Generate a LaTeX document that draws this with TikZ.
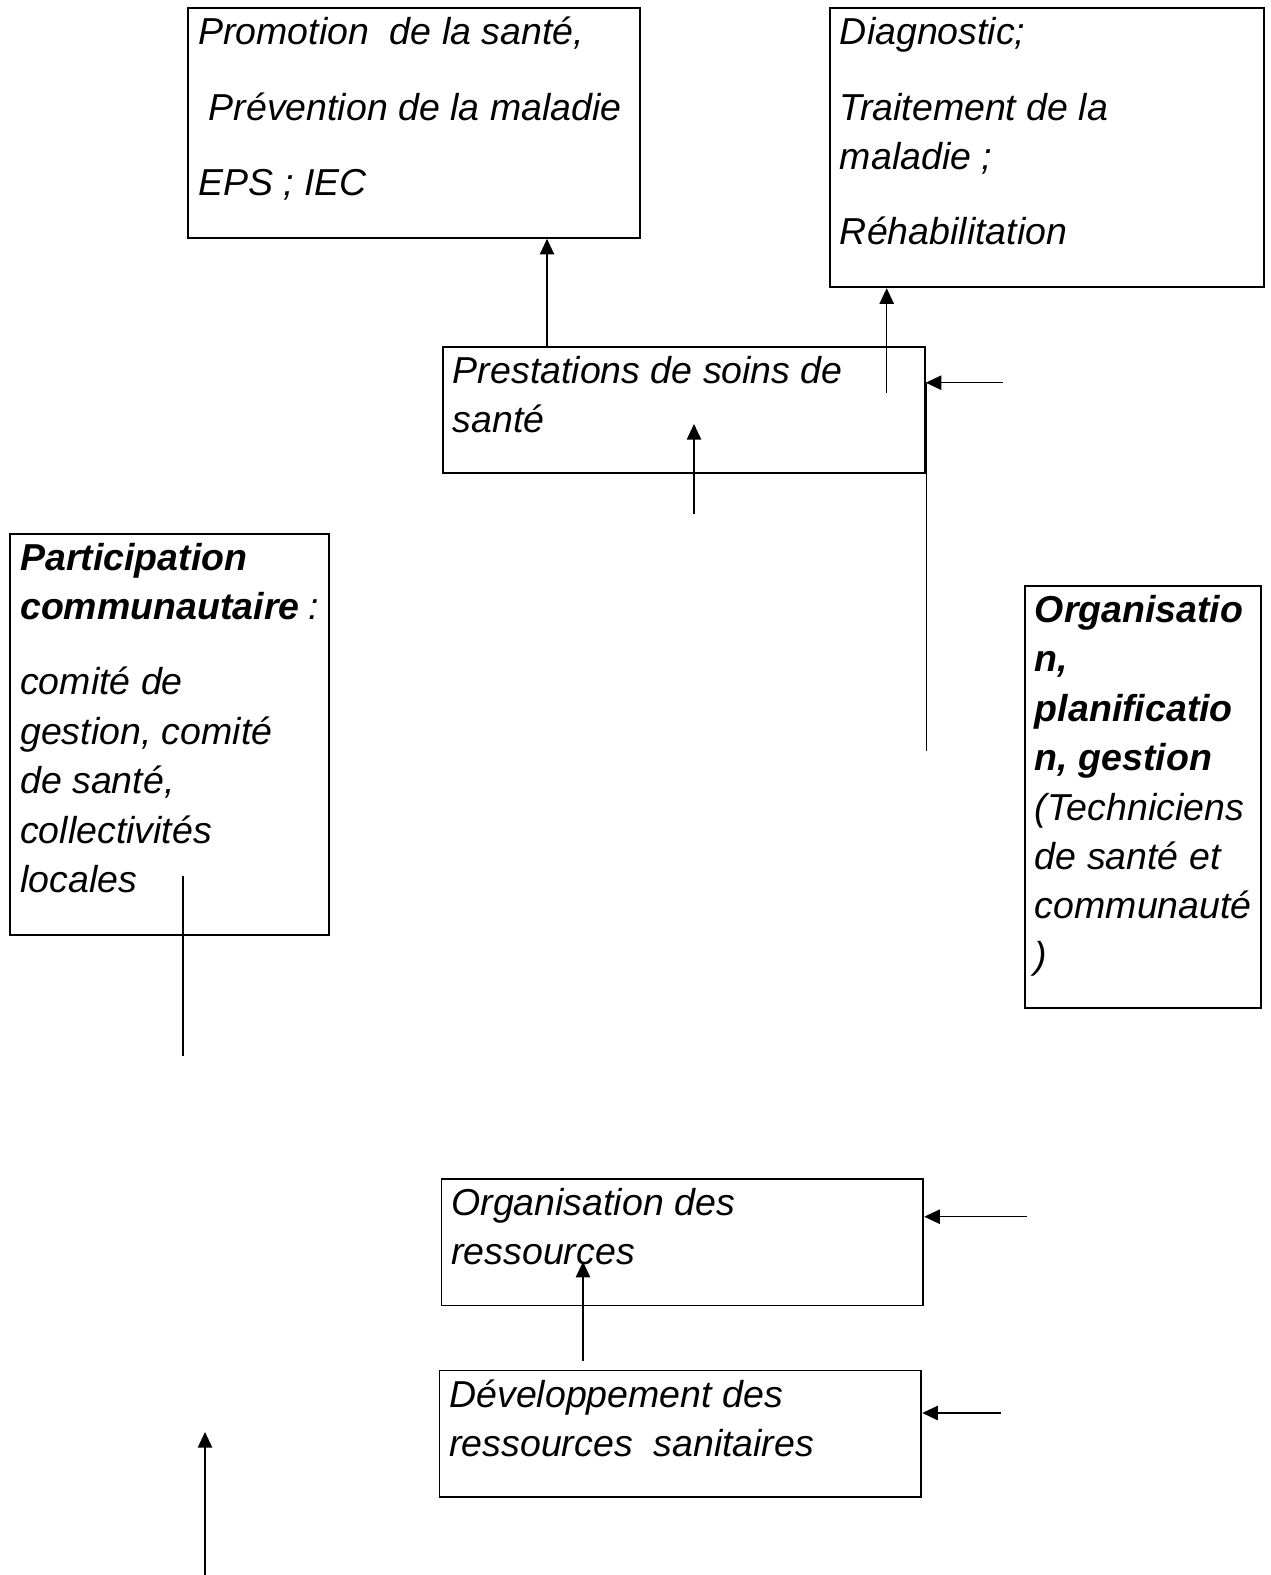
\documentclass[tikz,border=0pt]{standalone}
\usepackage{fontspec}
\setmainfont{Liberation Sans}
\usepackage{tikz}
\usetikzlibrary{arrows.meta}
\hyphenpenalty=10000
\exhyphenpenalty=10000

\begin{document}
\begin{tikzpicture}[
    x=0.32pt, y=-0.32pt,
    font=\fontsize{12}{15.8}\selectfont\itshape,
    panel/.style={draw, line width=0.6pt, anchor=north west, align=flush left, inner xsep=3.2pt, inner ysep=0pt, text height=11.7pt},
    arr/.style={-{Triangle[length=5pt,width=4.6pt]}, line width=0.45pt},
    link/.style={line width=0.45pt}
]
\useasboundingbox (0,0) rectangle (1271,1575);

% boxes
\node[panel, text width=138.2pt, text depth=61.8pt] (promo) at (187.3,7.3) {Promotion\ \ de la santé,\\[8.3pt]\hspace*{0.278em}Prévention de la maladie\\[8.3pt]EPS ; IEC};
\node[panel, text width=132.5pt, text depth=77.6pt] (diag) at (829,7.3) {Diagnostic;\\[8.3pt]Traitement de la\\maladie ;\\[8.3pt]Réhabilitation};
\node[panel, text width=147.8pt, text depth=28.6pt] (prest) at (442,346) {Prestations de soins de\\santé};
\node[panel, text width=95.7pt, text depth=116.8pt] (partic) at (9.3,532.7) {{\bfseries Participation\\communautaire}~:\\[8.3pt]comité de\\gestion, comité\\de santé,\\collectivités\\locales};
\node[panel, text width=69.1pt, text depth=123.3pt] (planif) at (1024,585) {{\bfseries Organisatio\\n,\\planificatio\\n, gestion}\\(Techniciens\\de santé et\\communauté\\)};
\node[panel, text width=147.8pt, text depth=28.8pt] (ressorg) at (440.5,1178) {Organisation des\\ressources};
\node[panel, text width=147.8pt, text depth=28.9pt] (devres) at (438.5,1369.5) {Développement des\\ressources\ \ sanitaires};

% free ends of the connectors
\coordinate (up1) at (547,0);
\coordinate (up2) at (886.7,392.7);
\coordinate (in1) at (1003,382.7);
\coordinate (side) at (926.5,751);
\coordinate (up3) at (694,514);
\coordinate (tip3) at (694,424);
\coordinate (dropA) at (183,876);
\coordinate (dropB) at (183,1056);
\coordinate (up4) at (205,1575);
\coordinate (tip4) at (205,1432);
\coordinate (in2) at (1027,1216.7);
\coordinate (up5) at (583,1361);
\coordinate (tip5) at (583,1261.7);
\coordinate (in3) at (1001,1413);

\draw[arr] (prest.north -| up1) -- (promo.south -| up1);
\draw[arr] (up2) -- (diag.south -| up2);
\foreach \s/\t in {in1/prest,in2/ressorg,in3/devres}{\draw[arr] (\s) -- (\t.east |- \s);}
\draw[link] (side |- in1) -- (side);
\draw[arr] (up3) -- (tip3);
\draw[link] (dropA) -- (dropB);
\draw[arr] (up4) -- (tip4);
\draw[arr] (up5) -- (tip5);
\end{tikzpicture}
\end{document}
